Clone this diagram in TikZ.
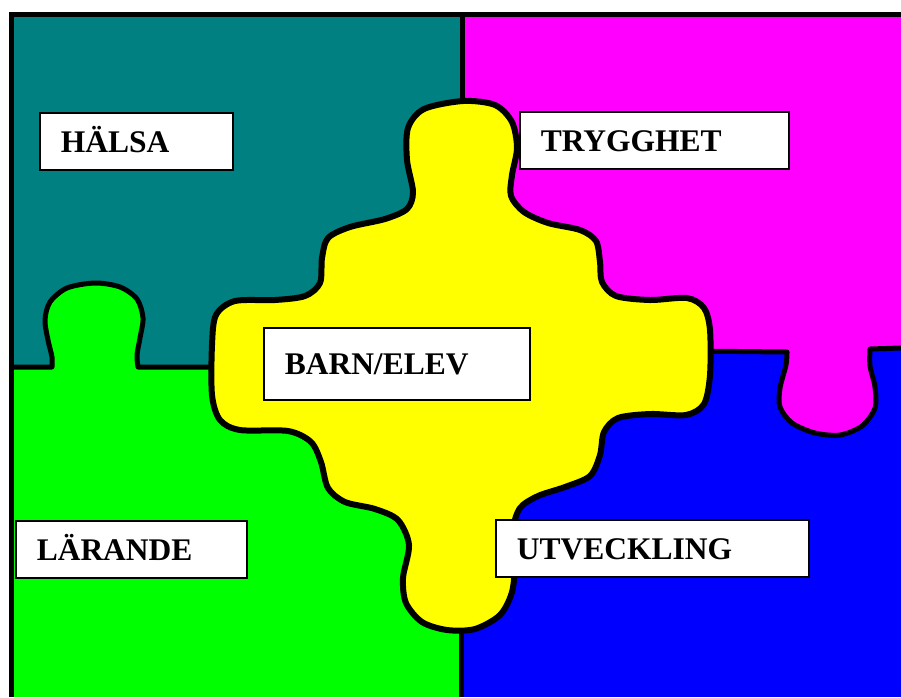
\documentclass[tikz,border=0pt]{standalone}
\usepackage{fontspec}
\setmainfont{Liberation Serif}
\usepackage{tikz}
\definecolor{halsateal}{RGB}{0,128,128}
\definecolor{trygghetpink}{RGB}{255,0,255}
\definecolor{larandegreen}{RGB}{0,255,0}
\definecolor{utvecklingblue}{RGB}{0,0,255}
\definecolor{barnyellow}{RGB}{255,255,0}

\begin{document}
\begin{tikzpicture}[x=1pt, y=-1pt,
    seam/.style={line width=5pt, line join=round},
    piece/.style={line width=6pt, line join=round},
    labelbox/.style={draw, line width=1.5pt, fill=white, anchor=north west, align=left, inner xsep=21pt, inner ysep=0pt, minimum height=57pt, text height=22pt, text depth=0pt, font=\fontsize{31.5}{38}\selectfont\bfseries},
]
    \clip (0,0) rectangle (901,697);

    % Quadrants
    \fill[halsateal] (11,14) rectangle (462,367);
    \fill[trygghetpink] (462,14) rectangle (901,350);
    \fill[larandegreen] (11,367) rectangle (462,697);
    \fill[utvecklingblue] (462,350) rectangle (901,697);

    % Seams with tabs
    \draw[seam, fill=larandegreen] (11,367) -- (52,367) -- plot[smooth, tension=0.5] coordinates {(52,367) (52,357) (48,340) (45,320) (50,302) (67,288) (95,283) (120,287) (137,299) (143,318) (140,338) (137,355) (138,367)} -- (230,367);
    \draw[seam, fill=trygghetpink] (690,351) -- (787,352) -- plot[smooth, tension=0.5] coordinates {(787,352) (786,365) (780,388) (780,407) (792,423) (815,433) (840,435) (862,426) (875,408) (875,387) (870,366) (870,349)} -- (901,348);
    \draw[seam] (462,14) -- (462,120);
    \draw[seam] (461,610) -- (461,697);

    % Centre piece
    \draw[piece, fill=barnyellow] plot[smooth cycle, tension=0.5] coordinates {
        (463,101) (495,105) (512,122) (517,148) (512,175) (511,196)
        (524,212) (548,223) (580,230) (596,241) (600,262) (602,282)
        (616,296) (650,300) (687,298) (704,308) (710,330) (710,375)
        (704,404) (686,415) (650,414) (618,418) (604,432) (600,455)
        (590,476) (565,487) (538,496) (520,508) (513,530) (515,562)
        (512,592) (500,615) (475,629) (447,630) (422,622) (406,603)
        (403,578) (409,545) (398,520) (375,509) (345,502) (328,488)
        (321,462) (311,442) (288,431) (240,430) (220,420) (212,395)
        (212,345) (216,315) (235,301) (275,300) (305,296) (320,283)
        (322,258) (328,238) (350,227) (385,219) (407,209) (413,192)
        (407,160) (408,128) (424,109)};

    % Frame
    \draw[line width=5pt] (11,697) -- (11,14) -- (901,14);

    % Labels
    \node[labelbox, text width=151pt] (halsa) at (39,112) {HÄLSA};
    \node[labelbox, text width=227pt] (trygghet) at (519,111) {TRYGGHET};
    \node[labelbox, text width=224pt, minimum height=72pt] (barn) at (263,327) {BARN/ELEV};
    \node[labelbox, text width=189pt] (larande) at (15,520) {LÄRANDE};
    \node[labelbox, text width=271pt] (utveckling) at (495,519) {UTVECKLING};
\end{tikzpicture}
\end{document}
